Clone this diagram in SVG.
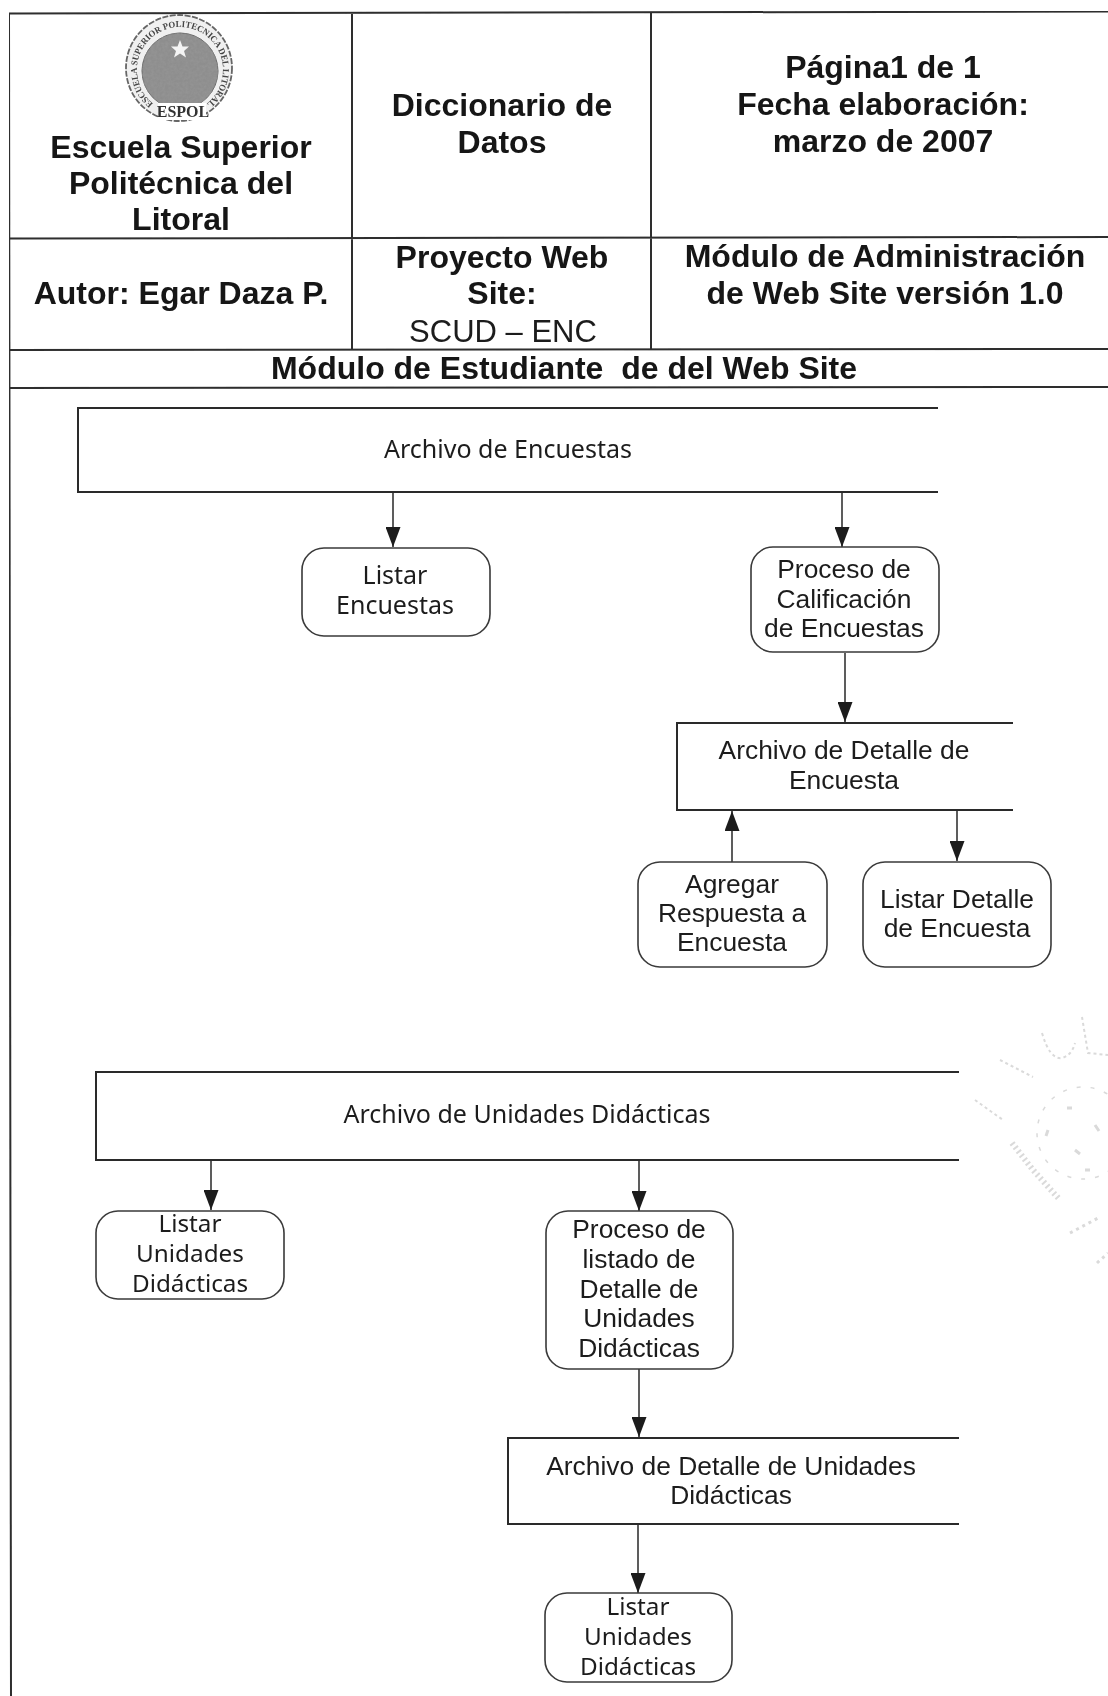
<svg xmlns="http://www.w3.org/2000/svg" width="1108" height="1696" viewBox="0 0 1108 1696">
<style>
text{text-anchor:middle;fill:#1c1c1c}
.h{font:bold 32px "Liberation Sans",Arial,sans-serif;fill:#141414;white-space:pre}
.hr{font:31px "Liberation Sans",Arial,sans-serif;fill:#1c1c1c}
.a{font:26.400px "Liberation Sans",Arial,sans-serif}
.t{font:25px "Noto Sans",Tahoma,sans-serif}
.s{font-size:24.300px}
.g{fill:#fff;stroke:#3a3a3a;stroke-width:1.600}
.box{fill:none;stroke:#2a2a2a;stroke-width:2}
.tb{stroke:#2e2e2e;stroke-width:2;fill:none}
.c{stroke:#333;stroke-width:1.600;fill:none;marker-end:url(#ah)}
</style>
<defs>
<marker id="ah" markerUnits="userSpaceOnUse" markerWidth="20" markerHeight="15" refX="20" refY="7.500" orient="auto" viewBox="0 0 20 15"><path d="M0 0L20 7.500L0 15Z" fill="#1c1c1c"/></marker>
<filter id="soft" x="0" y="0" width="100%" height="100%"><feGaussianBlur stdDeviation="0.55"/></filter>
<filter id="grain" x="-5%" y="-5%" width="110%" height="110%"><feTurbulence type="fractalNoise" baseFrequency="0.35" numOctaves="2" seed="4"/><feColorMatrix values="0 0 0 0 0.3 0 0 0 0 0.3 0 0 0 0 0.3 1.6 0 0 0 -0.45"/><feComposite in2="SourceGraphic" operator="in"/><feMerge><feMergeNode in="SourceGraphic"/><feMergeNode/></feMerge><feGaussianBlur stdDeviation="0.6"/></filter>
<path id="ring" d="M155.300 105.200A43 43 0 1 1 204.700 105.200"/>
</defs>
<rect width="1108" height="1696" fill="#fff"/>
<g filter="url(#soft)">
<g id="table">
<path class="tb" d="M9 13.500L1108 11.500M9 238.500L1108 237M9 350L1108 349M9 388L1108 387M9 13.500L11 1696M352 13V350M651 12V349"/>
</g>
<g id="seal">
<circle cx="179" cy="68" r="53" fill="#f0f0f0" stroke="#666" stroke-width="1.800" stroke-dasharray="6 1.500"/>
<circle cx="180" cy="71" r="38" fill="#8e8e8e" stroke="#666" filter="url(#grain)"/>
<path d="M180 40l2.500 6.500h6.500l-5 4.500 2 6.500-6-4-6 4 2-6.500-5-4.500h6.500z" fill="#f4f4f4"/>
<text font-family="Liberation Serif,serif" font-size="9" font-weight="bold" style="fill:#444"><textPath href="#ring" startOffset="50%" textLength="212" lengthAdjust="spacingAndGlyphs">ESCUELA SUPERIOR POLITECNICA DEL LITORAL</textPath></text>
<rect x="158" y="103" width="48" height="17" fill="#fff"/>
<text x="183" y="117" font-family="Liberation Serif,serif" font-size="16" font-weight="bold" style="fill:#333">ESPOL</text>
</g>
<g id="header-texts">
<text class="h" x="181" y="158">Escuela Superior</text>
<text class="h" x="181" y="194">Politécnica del</text>
<text class="h" x="181" y="230">Litoral</text>
<text class="h" x="502" y="116">Diccionario de</text>
<text class="h" x="502" y="153">Datos</text>
<text class="h" x="883" y="78">Página1 de 1</text>
<text class="h" x="883" y="115">Fecha elaboración:</text>
<text class="h" x="883" y="152">marzo de 2007</text>
<text class="h" x="181" y="304">Autor: Egar Daza P.</text>
<text class="h" x="502" y="268">Proyecto Web</text>
<text class="h" x="502" y="304">Site:</text>
<text class="hr" x="503" y="342">SCUD – ENC</text>
<text class="h" x="885" y="267">Módulo de Administración</text>
<text class="h" x="885" y="304">de Web Site versión 1.0</text>
<text class="h" x="564" y="379">Módulo de Estudiante  de del Web Site</text>
</g>
<g id="connectors">
<path class="c" d="M393 492V547"/>
<path class="c" d="M842 492V547"/>
<path class="c" d="M845 653V722"/>
<path class="c" d="M732 862V811"/>
<path class="c" d="M957 810V861"/>
<path class="c" d="M211 1160V1210"/>
<path class="c" d="M639 1160V1211"/>
<path class="c" d="M639 1369V1437"/>
<path class="c" d="M638 1524V1593"/>
</g>
<g id="archivo-encuestas"><path class="box" d="M938 408H78V492H938"/><text class="t" x="508" y="458">Archivo de Encuestas</text></g>
<g id="listar-encuestas"><rect class="g" x="302" y="548" width="188" height="88" rx="22"/><text class="t" x="395" y="584">Listar</text><text class="t" x="395" y="614">Encuestas</text></g>
<g id="proceso-calificacion"><rect class="g" x="751" y="547" width="188" height="105" rx="22"/><text class="a" x="844" y="578">Proceso de</text><text class="a" x="844" y="608">Calificación</text><text class="a" x="844" y="637">de Encuestas</text></g>
<g id="archivo-detalle-encuesta"><path class="box" d="M1013 723H677V810H1013"/><text class="a" x="844" y="759">Archivo de Detalle de</text><text class="a" x="844" y="789">Encuesta</text></g>
<g id="agregar-respuesta"><rect class="g" x="638" y="862" width="189" height="105" rx="22"/><text class="a" x="732" y="893">Agregar</text><text class="a" x="732" y="922">Respuesta a</text><text class="a" x="732" y="951">Encuesta</text></g>
<g id="listar-detalle"><rect class="g" x="863" y="862" width="188" height="105" rx="22"/><text class="a" x="957" y="908">Listar Detalle</text><text class="a" x="957" y="937">de Encuesta</text></g>
<g id="archivo-unidades"><path class="box" d="M959 1072H96V1160H959"/><text class="t" x="527" y="1123">Archivo de Unidades Didácticas</text></g>
<g id="listar-unidades-1"><rect class="g" x="96" y="1211" width="188" height="88" rx="22"/><text class="t s" x="190" y="1232">Listar</text><text class="t s" x="190" y="1262">Unidades</text><text class="t s" x="190" y="1292">Didácticas</text></g>
<g id="proceso-listado"><rect class="g" x="546" y="1211" width="187" height="158" rx="22"/><text class="a" x="639" y="1238">Proceso de</text><text class="a" x="639" y="1268">listado de</text><text class="a" x="639" y="1298">Detalle de</text><text class="a" x="639" y="1327">Unidades</text><text class="a" x="639" y="1357">Didácticas</text></g>
<g id="archivo-detalle-unidades"><path class="box" d="M959 1438H508V1524H959"/><text class="a" x="731" y="1475">Archivo de Detalle de Unidades</text><text class="a" x="731" y="1504">Didácticas</text></g>
<g id="listar-unidades-2"><rect class="g" x="545" y="1593" width="187" height="89" rx="22"/><text class="t s" x="638" y="1615">Listar</text><text class="t s" x="638" y="1645">Unidades</text><text class="t s" x="638" y="1675">Didácticas</text></g>
<g id="faint-stamp" fill="none" stroke="#dadada">
<circle cx="1083" cy="1133" r="46" stroke-width="1.500" stroke-dasharray="4 10"/>
<path d="M975 1100L1003 1120M1000 1060L1033 1077M1042 1033Q1050 1060 1062 1058Q1072 1055 1075 1043M1082 1017L1088 1053L1108 1055" stroke-width="2" stroke-dasharray="3 3"/>
<path d="M1012 1143L1033 1170L1060 1200" stroke-width="6" stroke-dasharray="2 3"/>
<path d="M1070 1233L1100 1217M1097 1263L1108 1253" stroke-width="3" stroke-dasharray="3 4"/>
<path d="M1067 1108h5M1085 1170h5M1075 1150l5 4M1048 1130l-2 6M1095 1125l4 6" stroke-width="3"/>
</g>
</g>
</svg>
